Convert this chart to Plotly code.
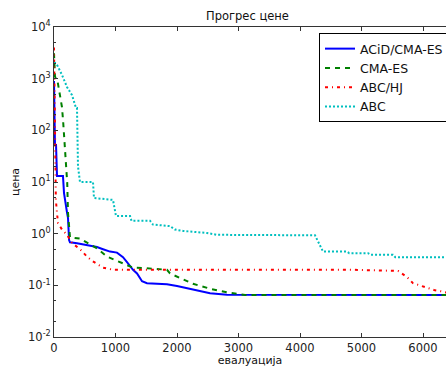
import plotly.graph_objects as go

# ---- data ----
acid_x = [0, 16, 33, 40, 49, 146, 163, 211, 228, 245, 260, 374, 537, 699, 797, 911, 1024, 1122, 1187, 1285, 1350, 1431, 1512, 1837, 2000, 2163, 2374, 2537, 2813, 6400]
acid_y = [900, 52, 52, 17, 13, 13, 6.1, 2.6, 2.0, 0.75, 0.68, 0.65, 0.6, 0.55, 0.5, 0.45, 0.43, 0.35, 0.28, 0.2, 0.17, 0.12, 0.11, 0.105, 0.097, 0.087, 0.077, 0.07, 0.066, 0.065]

cma_x = [0, 16, 60, 81, 130, 150, 195, 215, 228, 260, 423, 585, 699, 862, 1024, 1187, 1285, 1610, 1837, 1886, 2049, 2260, 2537, 2813, 3106, 6400]
cma_y = [3100, 1100, 860, 590, 280, 140, 23, 9.6, 2.5, 0.85, 0.8, 0.62, 0.52, 0.36, 0.3, 0.25, 0.22, 0.21, 0.2, 0.17, 0.14, 0.107, 0.086, 0.073, 0.065, 0.065]

abchj_x = [0, 10, 16, 30, 49, 65, 130, 211, 293, 423, 537, 634, 797, 959, 1100, 4862, 5594, 5740, 5837, 6033, 6195, 6309, 6400]
abchj_y = [4000, 100, 11, 4.5, 2.5, 1.6, 1.2, 0.95, 0.66, 0.5, 0.36, 0.29, 0.22, 0.2, 0.2, 0.2, 0.19, 0.145, 0.11, 0.093, 0.08, 0.076, 0.072]

abc_x = [0, 33, 65, 130, 211, 293, 358, 374, 390, 423, 634, 650, 959, 1008, 1236, 1260, 1561, 1610, 1886, 1967, 2100, 2488, 2650, 4244, 4374, 4764, 4800, 5106, 5150, 5512, 5550, 6400]
abc_y = [2000, 2000, 1700, 1180, 690, 480, 270, 270, 20, 10, 10, 4.9, 4.5, 2.2, 2.2, 1.77, 1.77, 1.5, 1.4, 1.2, 1.13, 1.03, 0.95, 0.93, 0.45, 0.45, 0.42, 0.42, 0.39, 0.39, 0.35, 0.35]

names = ["ACiD/CMA-ES", "CMA-ES", "ABC/HJ", "ABC"]
x_ticks = [0, 1000, 2000, 3000, 4000, 5000, 6000]
y_ticks = [1e-2, 1e-1, 1e0, 1e1, 1e2, 1e3, 1e4]
y_tick_text = ["10<sup>-2</sup>", "10<sup>-1</sup>", "10<sup>0</sup>", "10<sup>1</sup>",
               "10<sup>2</sup>", "10<sup>3</sup>", "10<sup>4</sup>"]

FONT = "DejaVu Sans"

fig = go.Figure()
fig.add_trace(go.Scatter(x=acid_x, y=acid_y, name=names[0], mode="lines",
                         line=dict(color="#0000ff", width=2, dash="solid")))
fig.add_trace(go.Scatter(x=cma_x, y=cma_y, name=names[1], mode="lines",
                         line=dict(color="#008000", width=2, dash="5px,5px")))
fig.add_trace(go.Scatter(x=abchj_x, y=abchj_y, name=names[2], mode="lines",
                         line=dict(color="#ff0000", width=2, dash="3px,4px,1px,4px")))
fig.add_trace(go.Scatter(x=abc_x, y=abc_y, name=names[3], mode="lines",
                         line=dict(color="#00bfbf", width=2, dash="2px,2px")))

W, H = 446, 367
L, R, T, B = 54, 0, 27, 30

fig.update_layout(
    width=W, height=H,
    margin=dict(l=L, r=R, t=T, b=B, autoexpand=False),
    paper_bgcolor="white", plot_bgcolor="white",
    font=dict(family=FONT, size=11, color="#222"),
    showlegend=True,
    legend=dict(
        x=(319 - L) / (W - L - R), y=(H - B - 33) / (H - T - B),
        xanchor="left", yanchor="top",
        bordercolor="#000", borderwidth=1, bgcolor="white",
        font=dict(family=FONT, size=12.5, color="#111"),
        tracegroupgap=0, itemwidth=30,
    ),
    annotations=[dict(text="Прогрес цене", xref="paper", yref="paper",
                      x=(247 - L) / (W - L - R), y=1, xanchor="center", yanchor="bottom",
                      yshift=2, showarrow=False, font=dict(family=FONT, size=11.5, color="#111"))],
)

fig.update_xaxes(
    range=[0, (W - L - R) / 61.5 * 1000],
    tickvals=x_ticks, ticktext=[str(v) for v in x_ticks],
    ticks="inside", ticklen=4, tickcolor="#333",
    showline=True, linecolor="#333", linewidth=1, mirror="ticks",
    showgrid=False, zeroline=False,
    title=dict(text="евалуација", standoff=2, font=dict(family=FONT, size=11, color="#111")),
    tickfont=dict(family=FONT, size=11.5, color="#222"),
)
fig.update_yaxes(
    type="log", range=[-2, 4],
    tickvals=y_ticks, ticktext=y_tick_text,
    ticks="inside", ticklen=4, tickcolor="#333",
    minor=dict(ticks="inside", ticklen=2, tickcolor="#333", showgrid=False),
    showline=True, linecolor="#333", linewidth=1, mirror=False,
    showgrid=False, zeroline=False,
    title=dict(text="цена", standoff=6, font=dict(family=FONT, size=11, color="#111")),
    tickfont=dict(family=FONT, size=11.5, color="#222"),
)

fig.write_html("out.html")
